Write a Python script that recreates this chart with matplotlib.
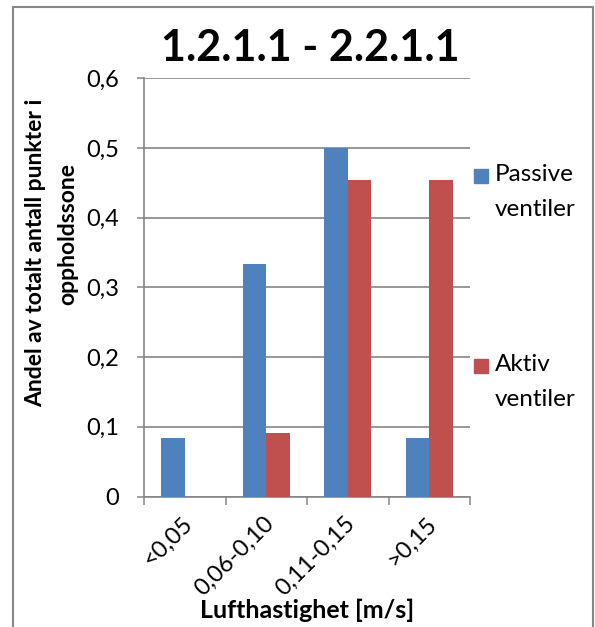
import matplotlib
matplotlib.use("Agg")
import matplotlib.pyplot as plt
from matplotlib.patches import Rectangle
from matplotlib.ticker import FuncFormatter, FixedLocator
from matplotlib.transforms import ScaledTranslation
import numpy as np

plt.rcParams['font.family'] = ['Lato', 'DejaVu Sans']

categories = ['<0,05', '0,06-0,10', '0,11-0,15', '>0,15']
passive = [1/12, 1/3, 1/2, 1/12]
aktiv = [0.0, 1/11, 5/11, 5/11]
series_labels = ['Passive\nventiler', 'Aktiv\nventiler']
title = '1.2.1.1 - 2.2.1.1'
ylabel_lines = ['Andel av totalt antall punkter i', 'oppholdssone']
xlabel = 'Lufthastighet [m/s]'

blue = '#4F81BD'
red = '#C0504D'
grey = '#868686'

W, H = 595, 627
fig = plt.figure(figsize=(W / 100, H / 100), dpi=100)
ax = fig.add_axes([144 / W, 1 - 496.5 / H, (470 - 144) / W, (496.5 - 78.3) / H])

x = np.arange(len(categories))
bw = 1 / 3.5  # gap width 150 %
ax.bar(x - bw / 2, passive, width=bw, color=blue, zorder=3)
ax.bar(x + bw / 2, aktiv, width=bw, color=red, zorder=3)

ax.set_xlim(-0.5, len(categories) - 0.5)
ax.set_ylim(0, 0.6)
ax.set_yticks(np.arange(0, 0.61, 0.1))
ax.yaxis.set_major_formatter(FuncFormatter(
    lambda v, p: '0' if abs(v) < 1e-9 else f'{v:.1f}'.replace('.', ',')))
ax.grid(axis='y', color=grey, linewidth=1.2, zorder=0)
ax.tick_params(axis='y', direction='out', length=5, width=1.1, color=grey,
               pad=13, labelsize=17)

ax.set_xticks(x)
ax.set_xticklabels(categories, rotation=45, ha='right', va='center',
                   rotation_mode='anchor', fontsize=17)
ax.tick_params(axis='x', which='major', length=0, pad=17)
shift = ScaledTranslation(4 / 100, 0, fig.dpi_scale_trans)
for lbl in ax.get_xticklabels():
    lbl.set_transform(lbl.get_transform() + shift)
ax.xaxis.set_minor_locator(FixedLocator(np.arange(-0.5, len(categories), 1.0)))
ax.tick_params(axis='x', which='minor', direction='out', length=6, width=1.1,
               color=grey)

for s in ['top', 'right']:
    ax.spines[s].set_visible(False)
for s in ['left', 'bottom']:
    ax.spines[s].set_color(grey)
    ax.spines[s].set_linewidth(1.2)

# chart title and axis titles
fig.text(310 / W, 1 - 48 / H, title, ha='center', va='center',
         fontsize=31, fontweight='bold')
fig.text(36 / W, 1 - 253 / H, ylabel_lines[0], rotation=90, ha='center',
         va='center', fontsize=16.5, fontweight='bold')
fig.text(68 / W, 1 - 234 / H, ylabel_lines[1], rotation=90, ha='center',
         va='center', fontsize=16.5, fontweight='bold')
fig.text(307 / W, 1 - 610 / H, xlabel, ha='center', va='center',
         fontsize=18, fontweight='bold')

# legend
for (ytop, col, lab) in [(169, blue, series_labels[0]), (359, red, series_labels[1])]:
    fig.add_artist(Rectangle((474 / W, 1 - (ytop + 14) / H), 14 / W, 14 / H,
                             transform=fig.transFigure, color=col))
    fig.text(495 / W, 1 - (ytop - 5) / H, lab, ha='left', va='top',
             fontsize=17.5, linespacing=1.85)

# chart frame
fig.add_artist(Rectangle((13 / W, -0.1), 580 / W, 1.1 - 7 / H,
                         transform=fig.transFigure, fill=False,
                         edgecolor=grey, linewidth=1.5))

fig.savefig('out.png', dpi=100)
